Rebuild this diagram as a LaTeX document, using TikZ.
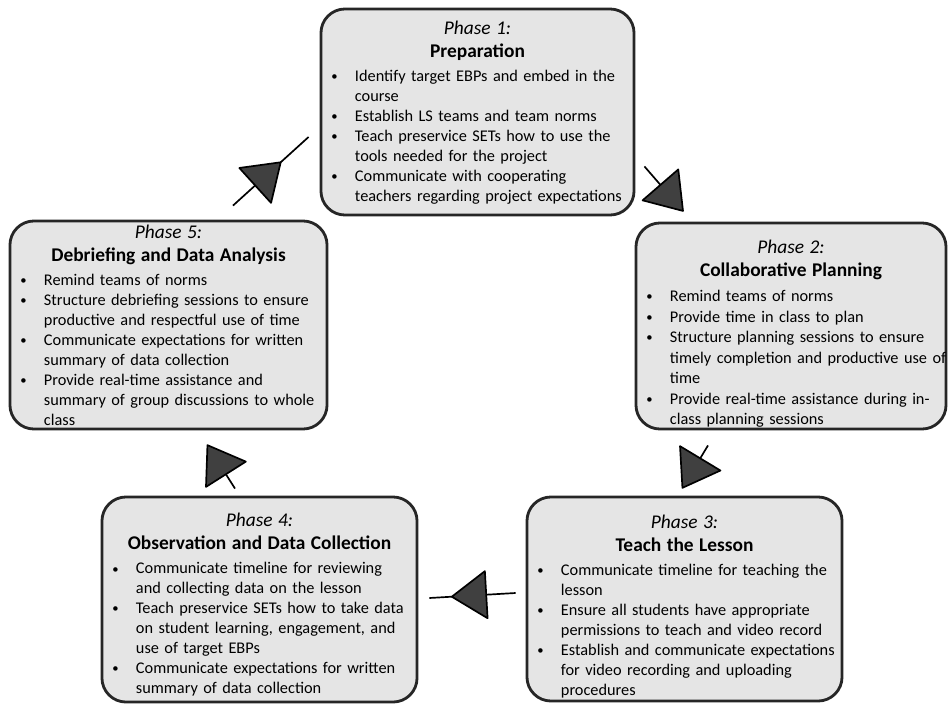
\documentclass[tikz,border=0pt]{standalone}
\usepackage{fontspec}
\setmainfont{Carlito}
\usetikzlibrary{positioning, arrows.meta, calc, decorations.markings}
\newcommand{\pitem}[1]{\par\noindent\hbox{\makebox[0.5cm][l]{\hspace{-2.5pt}\raisebox{0.6pt}{\fontsize{9pt}{9pt}\selectfont\textbullet}}#1}}
\newcommand{\pline}[1]{\par\noindent\hbox{\hspace{0.5cm}#1}}
% optional argument: extra height on the first line, pushes the text down by half of it
\newcommand{\phasehead}[3][0pt]{{\centering\fontsize{13.8pt}{16.4pt}\selectfont\rule{0pt}{\dimexpr10pt+#1\relax}\textit{Phase #2:}\\\textbf{#3}\par}\vspace{3pt}}
\tikzset{
  phasebox/.style = {draw=black!85, line width=2pt, rounded corners=0.6cm, fill=black!10, align=left, inner xsep=0.35cm, inner ysep=0pt, font=\fontsize{11.6pt}{14.2pt}\selectfont},
  link/.style     = {line width=1.2pt},
  headend/.style  = {-{Triangle[width=1.25cm, length=0.92cm, fill=black!75, round]}},
  midhead/.style  = {postaction={decorate}, decoration={markings, mark=at position #1 with {\arrow{Triangle[width=1.25cm, length=0.92cm, fill=black!75, round]}}}}
}

\begin{document}
\begin{tikzpicture}[x=0.025cm, y=-0.025cm]
  \useasboundingbox (0,0) rectangle (948,705);

  \node[phasebox, text width=7.125cm, minimum height=5.15cm] (p1) at (477.5,112) {%
    \phasehead{1}{Preparation}
    \pitem{Identify target EBPs and embed in the}
    \pline{course}
    \pitem{Establish LS teams and team norms}
    \pitem{Teach preservice SETs how to use the}
    \pline{tools needed for the project}
    \pitem{Communicate with cooperating}
    \pline{teachers regarding project expectations}
    \par\vspace{2pt}};

  \node[phasebox, text width=7.05cm, minimum height=5.15cm,
        font=\fontsize{11.6pt}{14.6pt}\selectfont] (p2) at (791,326) {%
    \phasehead[11pt]{2}{Collaborative Planning}
    \pitem{Remind teams of norms}
    \pitem{Provide time in class to plan}
    \pitem{Structure planning sessions to ensure}
    \pline{timely completion and productive use of}
    \pline{time}
    \pitem{Provide real-time assistance during in-}
    \pline{class planning sessions}};

  \node[phasebox, text width=7.175cm, minimum height=5.1cm] (p3) at (684.5,599) {%
    \phasehead[10pt]{3}{Teach the Lesson}
    \pitem{Communicate timeline for teaching the}
    \pline{lesson}
    \pitem{Ensure all students have appropriate}
    \pline{permissions to teach and video record}
    \pitem{Establish and communicate expectations}
    \pline{for video recording and uploading}
    \pline{procedures}};

  \node[phasebox, text width=7.175cm, minimum height=5.125cm] (p4) at (259.5,599.5) {%
    \phasehead[7pt]{4}{Observation and Data Collection}
    \pitem{Communicate timeline for reviewing}
    \pline{and collecting data on the lesson}
    \pitem{Teach preservice SETs how to take data}
    \pline{on student learning, engagement, and}
    \pline{use of target EBPs}
    \pitem{Communicate expectations for written}
    \pline{summary of data collection}};

  \node[phasebox, text width=7.225cm, minimum height=5.2cm] (p5) at (168.5,325) {%
    \phasehead{5}{Debriefing and Data Analysis}
    \pitem{Remind teams of norms}
    \pitem{Structure debriefing sessions to ensure}
    \pline{productive and respectful use of time}
    \pitem{Communicate expectations for written}
    \pline{summary of data collection}
    \pitem{Provide real-time assistance and}
    \pline{summary of group discussions to whole}
    \pline{class}};

  % cycle arrows
  \draw[link, headend] ($(p1.south east)+(9,-50)$) -- ($(p2.north west)+(49,-10)$);
  \draw[link, headend] ($(p2.south)+(-83,15)$) -- ($(p3.north)+(-2.5,-7)$);
  \draw[link, midhead=0.75] ($(p3.west)+(-10,-6)$) -- ($(p4.east)+(11,-1.5)$);
  \draw[link, headend] ($(p4.north)+(-24.5,-7)$) -- ($(p5.south)+(38.5,14)$);
  \draw[link, midhead=0.64] ($(p5.north)+(64.5,-14)$) -- ($(p1.west)+(-11,25)$);
\end{tikzpicture}
\end{document}
